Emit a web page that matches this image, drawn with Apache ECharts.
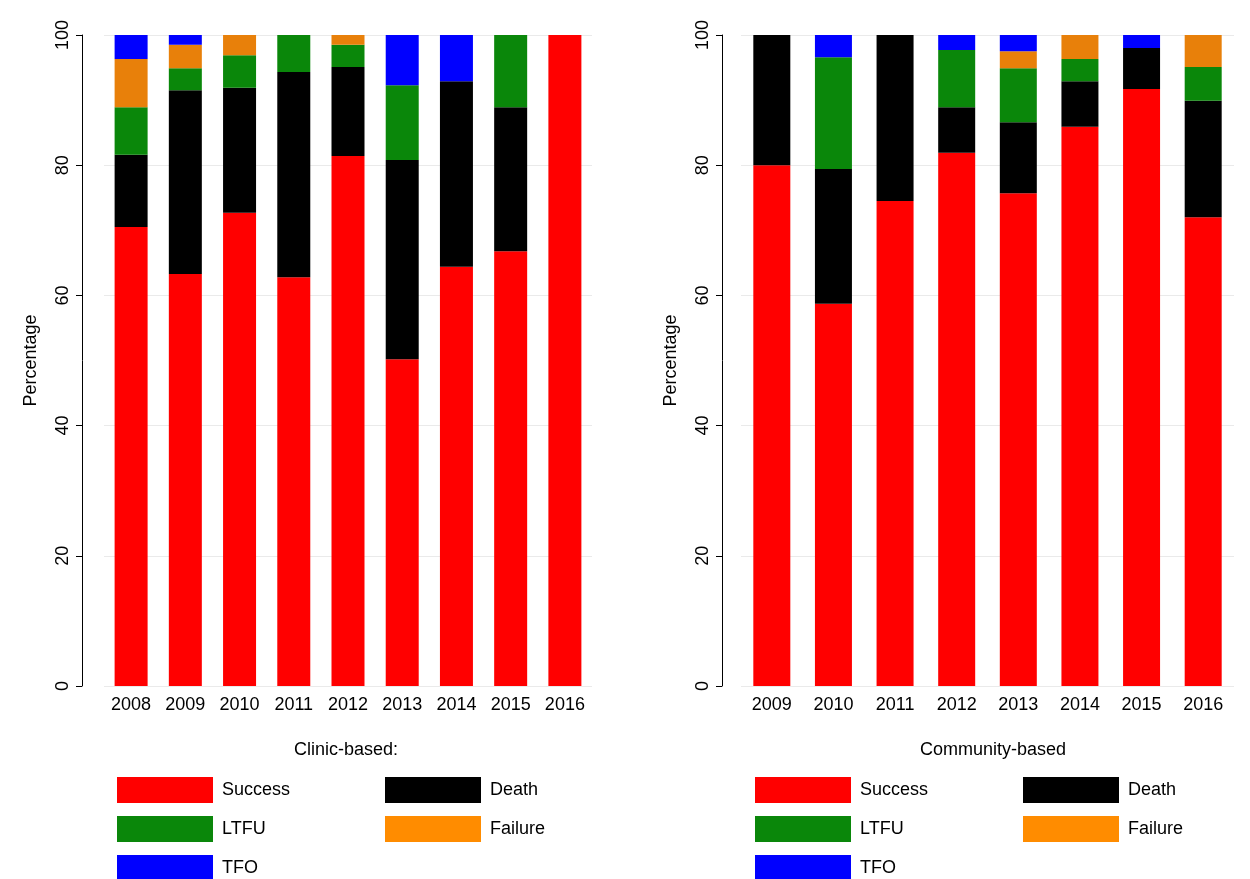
<!DOCTYPE html>
<html><head><meta charset="utf-8">
<script src="https://cdn.jsdelivr.net/npm/echarts@6/dist/echarts.min.js"></script>
<style>html,body{margin:0;background:#fff}#c{width:1250px;height:879px}</style>
</head><body><div id="c"></div>
<script>
// clinic-based
var clinicYears = ['2008','2009','2010','2011','2012','2013','2014','2015','2016'];
var clinicSuccess = [70.5, 63.3, 72.7, 62.8, 81.4, 50.2, 64.4, 66.8, 100];
var clinicDeath   = [11.1, 28.2, 19.2, 31.5, 13.7, 30.6, 28.5, 22.1, 0];
var clinicLtfu    = [7.3, 3.4, 5.0, 5.7, 3.4, 11.5, 0, 11.1, 0];
var clinicFailure = [7.4, 3.6, 3.1, 0, 1.5, 0, 0, 0, 0];
var clinicTfo     = [3.7, 1.5, 0, 0, 0, 7.7, 7.1, 0, 0];
// community-based
var commYears = ['2009','2010','2011','2012','2013','2014','2015','2016'];
var commSuccess = [80.0, 58.7, 74.5, 81.9, 75.7, 85.9, 91.7, 72.0];
var commDeath   = [20.0, 20.7, 25.5, 7.0, 10.9, 7.0, 6.3, 17.9];
var commLtfu    = [0, 17.2, 0, 8.8, 8.3, 3.4, 0, 5.2];
var commFailure = [0, 0, 0, 0, 2.6, 3.7, 0, 4.9];
var commTfo     = [0, 3.4, 0, 2.3, 2.5, 0, 2.0, 0];

var names = ['Success','Death','LTFU','Failure','TFO'];
var colors = ['#ff0000','#000000','#0a870a','#e8800a','#0000ff'];
var legendColors = ['#ff0000','#000000','#0a870a','#ff8c00','#0000ff'];
var font = 'Liberation Sans, Arial, sans-serif';

function yAxis(i, off) {
  return {type:'value', gridIndex:i, min:0, max:100, interval:20, offset:off,
    name:'Percentage', nameLocation:'middle', nameGap:42,
    nameTextStyle:{fontSize:18, color:'#000', fontFamily:font},
    axisLine:{show:true, lineStyle:{color:'#000'}}, axisTick:{show:true, length:6, lineStyle:{color:'#000'}},
    axisLabel:{rotate:90, fontSize:18, color:'#000', fontFamily:font, margin:10},
    splitLine:{lineStyle:{color:'#eaeaea'}}};
}
function xAxis(i, cats) {
  return {type:'category', gridIndex:i, data:cats,
    axisLine:{show:false}, axisTick:{show:false},
    axisLabel:{fontSize:18, color:'#000', fontFamily:font, margin:10}};
}
var series = [];
var clinic = [clinicSuccess, clinicDeath, clinicLtfu, clinicFailure, clinicTfo];
var comm = [commSuccess, commDeath, commLtfu, commFailure, commTfo];
names.forEach(function (n, k) {
  series.push({name:n, type:'bar', stack:'a', xAxisIndex:0, yAxisIndex:0, barWidth:33,
    data:clinic[k], itemStyle:{color:colors[k]}});
  series.push({name:n, type:'bar', stack:'b', xAxisIndex:1, yAxisIndex:1, barWidth:37,
    data:comm[k], itemStyle:{color:colors[k]}});
});
// one legend per item so the two columns line up
var legends = [];
[112, 750].forEach(function (x0) {
  names.forEach(function (n, k) {
    legends.push({left: x0 + (k % 2) * 268, top: 772 + Math.floor(k / 2) * 39,
      itemWidth:96, itemHeight:26, icon:'rect', selectedMode:false,
      data:[{name:n, itemStyle:{color:legendColors[k]}}],
      textStyle:{fontSize:18, color:'#000', fontFamily:font, padding:[0,0,0,4]}});
  });
});
var chart = echarts.init(document.getElementById('c'));
chart.setOption({
  animation:false,
  title:[
    {text:'Clinic-based:', left:341, top:736, textAlign:'center', textStyle:{fontSize:18, color:'#000', fontWeight:'normal', fontFamily:font}},
    {text:'Community-based', left:988, top:736, textAlign:'center', textStyle:{fontSize:18, color:'#000', fontWeight:'normal', fontFamily:font}}
  ],
  grid:[
    {left:104, width:488, top:35, height:651},
    {left:741, width:493, top:35, height:651}
  ],
  xAxis:[xAxis(0, clinicYears), xAxis(1, commYears)],
  yAxis:[yAxis(0, 22), yAxis(1, 19)],
  legend:legends,
  series:series
});
</script></body></html>
